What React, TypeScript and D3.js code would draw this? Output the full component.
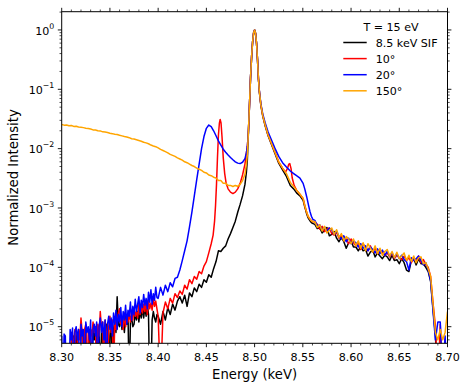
import React from "react";
import * as d3 from "d3";

// ---------- axes / labels ----------
const xDomain: [number, number] = [8.3, 8.7];
const yDomain: [number, number] = [5.25e-6, 2.03];
const xMajorTicks = [8.3, 8.35, 8.4, 8.45, 8.5, 8.55, 8.6, 8.65, 8.7];
const xTickLabels = ["8.30", "8.35", "8.40", "8.45", "8.50", "8.55", "8.60", "8.65", "8.70"];
const yExponents = [0, -1, -2, -3, -4, -5];
const xLabel = "Energy (keV)";
const yLabel = "Normalized Intensity";
const legendTitle = "T = 15 eV";
const seriesNames = ["8.5 keV SIF", "10°", "20°", "150°"];
const seriesColors = ["black", "red", "blue", "orange"];

// ---------- data ----------
const lowStart = 8.3; // noisy low-energy segment 8.300 – 8.39875
const lowStep = 0.00125;
const tailStart = 8.5625; // noisy high-energy tail 8.5625 – 8.700
const tailStep = 0.0025;

const blackLow = [
  1e-6, 1e-6, 1e-6, 1e-6, 1e-6, 1e-6, 1e-6, 1e-6, 1e-6, 1e-6,
  7e-6, 1e-6, 6e-6, 8e-6, 1e-6, 1e-6, 7e-6, 9e-6, 6e-6, 1e-6,
  8e-6, 1e-6, 1e-6, 9e-6, 7e-6, 1e-6, 1e-5, 6e-6, 1e-5, 7e-6,
  1e-6, 8e-6, 1e-6, 9e-6, 7e-6, 1e-6, 1e-6, 1.1e-5, 8e-6, 1e-6,
  7e-6, 1.2e-5, 1e-6, 9e-6, 1.2e-5, 8e-6, 3.2e-5, 1.1e-5, 1e-5, 1.4e-5,
  9e-6, 1.3e-5, 8e-6, 1.5e-5, 1.1e-5, 1.6e-5, 1e-6, 1.2e-5, 1.4e-5, 1e-5,
  1.1e-5, 1.7e-5, 1.3e-5, 1.8e-5, 1.2e-5, 1.9e-5, 1.4e-5, 2.1e-5, 1.4e-5, 2.2e-5,
  1.5e-5, 2.4e-5, 1.6e-5, 1e-6, 1e-6, 1.3e-5, 1.8e-5, 1.4e-5, 1.2e-5, 1.6e-5,
];
const redLow = [
  1e-6, 1e-6, 1e-6, 1e-6, 1e-6, 1e-6, 1e-6, 1e-6, 8e-6, 1e-6,
  6e-6, 9e-6, 1e-6, 7e-6, 9e-6, 6e-6, 1.4e-5, 8e-6, 1e-6, 9e-6,
  1.1e-5, 1e-6, 8e-6, 1e-6, 9e-6, 7e-6, 1.2e-5, 8e-6, 1e-5, 1e-6,
  1.1e-5, 7e-6, 1.8e-5, 9e-6, 1.2e-5, 1e-6, 1.3e-5, 8e-6, 1e-6, 1e-5,
  1.5e-5, 8e-6, 1.3e-5, 1e-6, 1.3e-5, 9e-6, 1.2e-5, 1.7e-5, 2e-5, 1.1e-5,
  1.5e-5, 9e-6, 1.7e-5, 1e-5, 1.4e-5, 1.2e-5, 1.6e-5, 1.2e-5, 1.9e-5, 1.3e-5,
  2.1e-5, 1.5e-5, 1.8e-5, 1.4e-5, 2.6e-5, 1.6e-5, 2.2e-5, 1.7e-5, 2.4e-5, 1.8e-5,
  2.7e-5, 1.6e-5, 2.9e-5, 2e-5, 2.5e-5, 1.9e-5, 3e-5, 2.2e-5, 2.7e-5, 2e-5,
];
const blueLow = [
  7e-6, 1e-6, 7.5e-6, 7e-6, 1e-6, 1e-6, 1e-6, 9e-6, 6e-6, 9.5e-6,
  1e-6, 8e-6, 1e-5, 6e-6, 9e-6, 1e-6, 1.1e-5, 7e-6, 9e-6, 1e-6,
  1.2e-5, 8e-6, 1e-5, 6e-6, 1.3e-5, 1e-6, 9e-6, 1.1e-5, 7e-6, 1.2e-5,
  1e-6, 1e-5, 1.4e-5, 8e-6, 1.2e-5, 6e-6, 1.3e-5, 1e-6, 1.1e-5, 1.5e-5,
  9e-6, 1.4e-5, 7e-6, 1.7e-5, 1.1e-5, 1.9e-5, 9e-6, 1.6e-5, 1.2e-5, 2.1e-5,
  1e-5, 1.8e-5, 1.3e-5, 2.3e-5, 1.1e-5, 1.9e-5, 1.5e-5, 2.6e-5, 1.3e-5, 2.2e-5,
  1.6e-5, 2.9e-5, 1.8e-5, 2.4e-5, 3.2e-5, 1.7e-5, 2.8e-5, 2.1e-5, 3.5e-5, 2.3e-5,
  3e-5, 2e-5, 3.8e-5, 2.6e-5, 4.2e-5, 2.4e-5, 3.6e-5, 2.8e-5, 4.6e-5, 3.1e-5,
];

const blackMid: [number, number][] = [
  [8.4, 1.5e-5], [8.4025, 1.1e-5], [8.405, 1.8e-5], [8.4075, 1.3e-5], [8.41, 2.1e-5], [8.4125, 1.6e-5],
  [8.415, 2.4e-5], [8.4175, 1.9e-5], [8.42, 2.7e-5], [8.4225, 3.2e-5], [8.425, 2.5e-5], [8.4275, 3.4e-5],
  [8.43, 2.2e-5], [8.4325, 3.7e-5], [8.435, 3.2e-5], [8.4375, 4.5e-5], [8.44, 3.9e-5], [8.4425, 5.2e-5],
  [8.445, 4.6e-5], [8.4475, 6.2e-5], [8.45, 5.6e-5], [8.4525, 7.5e-5], [8.455, 6.8e-5], [8.4575, 9.5e-5],
  [8.46, 1.25e-4], [8.4625, 1.9e-4], [8.465, 1.85e-4], [8.4675, 2.1e-4], [8.47, 2.3e-4], [8.4725, 3.0e-4],
  [8.475, 3.7e-4], [8.4775, 4.7e-4], [8.48, 6.0e-4], [8.4825, 8.5e-4], [8.485, 1.15e-3], [8.4875, 1.6e-3],
  [8.49, 2.5e-3], [8.4915, 4.0e-3], [8.4925, 6.5e-3], [8.4935, 0.017], [8.4945, 0.044], [8.4958, 0.16],
  [8.497, 0.38], [8.498, 0.65], [8.499, 0.9], [8.5, 1.0], [8.501, 0.88], [8.502, 0.6], [8.503, 0.32],
  [8.504, 0.15], [8.505, 0.088], [8.5065, 0.053], [8.5085, 0.035], [8.511, 0.024], [8.514, 0.0165],
  [8.5175, 0.0118], [8.521, 8.4e-3], [8.525, 5.7e-3], [8.529, 4.4e-3], [8.533, 3.4e-3], [8.537, 2.4e-3],
  [8.5405, 2.1e-3], [8.5435, 1.8e-3], [8.547, 1.6e-3], [8.5503, 1.35e-3], [8.552, 1.05e-3], [8.554, 8e-4],
  [8.5555, 6.8e-4], [8.558, 5.9e-4], [8.56, 5.5e-4],
];
const redMid: [number, number][] = [
  [8.4, 1.5e-5], [8.4025, 1e-6], [8.405, 1.7e-5], [8.4075, 2.6e-5], [8.41, 2e-5], [8.4125, 3e-5],
  [8.415, 2.5e-5], [8.4175, 3.6e-5], [8.42, 3.1e-5], [8.4225, 4e-5], [8.425, 3.5e-5], [8.4275, 5e-5],
  [8.43, 4.3e-5], [8.4325, 6.2e-5], [8.435, 5.3e-5], [8.4375, 7e-5], [8.44, 6.3e-5], [8.4425, 8.5e-5],
  [8.445, 7.8e-5], [8.4475, 1.05e-4], [8.45, 1.25e-4], [8.4525, 1.75e-4], [8.455, 2.5e-4], [8.457, 3.5e-4],
  [8.4585, 6e-4], [8.4595, 1.1e-3], [8.4605, 2.5e-3], [8.4615, 7e-3], [8.4625, 0.017], [8.4635, 0.027],
  [8.4643, 0.031], [8.4652, 0.027], [8.4662, 0.016], [8.4675, 7e-3], [8.469, 3.8e-3], [8.4705, 2.6e-3],
  [8.4725, 2.1e-3], [8.475, 1.85e-3], [8.4775, 1.75e-3], [8.48, 1.85e-3], [8.4825, 2.1e-3], [8.485, 2.6e-3],
  [8.4875, 3.6e-3], [8.49, 5.5e-3], [8.4915, 8.5e-3], [8.4925, 0.011], [8.4935, 0.018], [8.4945, 0.045],
  [8.4958, 0.16], [8.497, 0.38], [8.498, 0.65], [8.499, 0.9], [8.5, 1.0], [8.501, 0.88], [8.502, 0.6],
  [8.503, 0.32], [8.504, 0.15], [8.505, 0.09], [8.5065, 0.055], [8.5085, 0.036], [8.511, 0.025],
  [8.514, 0.017], [8.5175, 0.0122], [8.521, 8.8e-3], [8.525, 6e-3], [8.529, 4.7e-3], [8.532, 4.0e-3],
  [8.534, 4.6e-3], [8.5355, 5.5e-3], [8.5365, 5.6e-3], [8.5378, 4.6e-3], [8.539, 3.2e-3], [8.541, 2.4e-3],
  [8.5435, 2.0e-3], [8.547, 1.7e-3], [8.5503, 1.45e-3], [8.552, 1.1e-3], [8.554, 8.5e-4], [8.5555, 7.2e-4],
  [8.558, 6.3e-4], [8.56, 5.9e-4],
];
const blueMid: [number, number][] = [
  [8.4, 3e-5], [8.4025, 4.6e-5], [8.405, 3.4e-5], [8.4075, 5e-5], [8.41, 3.9e-5], [8.4125, 5.5e-5],
  [8.415, 4.7e-5], [8.4175, 6.5e-5], [8.42, 6.8e-5], [8.4225, 9e-5], [8.425, 1.3e-4], [8.4275, 1.9e-4],
  [8.43, 2.8e-4], [8.4325, 4.8e-4], [8.435, 8.5e-4], [8.4375, 1.6e-3], [8.44, 3e-3], [8.4425, 5.5e-3],
  [8.445, 0.01], [8.4475, 0.016], [8.45, 0.022], [8.4525, 0.025], [8.455, 0.0235], [8.4575, 0.02],
  [8.46, 0.0165], [8.4625, 0.0135], [8.465, 0.0115], [8.4675, 0.0098], [8.47, 8.7e-3], [8.4725, 7.8e-3],
  [8.475, 7.1e-3], [8.4775, 6.5e-3], [8.48, 6.0e-3], [8.4825, 5.7e-3], [8.485, 5.6e-3], [8.4875, 5.9e-3],
  [8.49, 6.8e-3], [8.4915, 8.5e-3], [8.4925, 0.011], [8.4935, 0.018], [8.4945, 0.045], [8.4958, 0.16],
  [8.497, 0.38], [8.498, 0.65], [8.499, 0.9], [8.5, 1.0], [8.501, 0.88], [8.502, 0.6], [8.503, 0.32],
  [8.504, 0.15], [8.505, 0.092], [8.5065, 0.057], [8.5085, 0.038], [8.511, 0.027], [8.514, 0.019],
  [8.5175, 0.014], [8.521, 0.0102], [8.525, 7.4e-3], [8.529, 5.8e-3], [8.533, 4.9e-3], [8.537, 4.2e-3],
  [8.5405, 3.8e-3], [8.5435, 3.5e-3], [8.547, 3.2e-3], [8.5503, 2.6e-3], [8.552, 2.1e-3], [8.554, 1.55e-3],
  [8.556, 1.1e-3], [8.5575, 8.6e-4], [8.559, 7.2e-4], [8.5605, 6.4e-4],
];
const orangeMain: [number, number][] = [
  [8.3, 0.0255], [8.3025, 0.0249], [8.305, 0.0251], [8.3075, 0.0243], [8.31, 0.0246], [8.3125, 0.0237],
  [8.315, 0.0238], [8.3175, 0.0231], [8.32, 0.0229], [8.3225, 0.0226], [8.325, 0.0221], [8.3275, 0.0219],
  [8.33, 0.0214], [8.3325, 0.0207], [8.335, 0.0206], [8.3375, 0.02], [8.34, 0.0199], [8.3425, 0.0192],
  [8.345, 0.019], [8.3475, 0.0187], [8.35, 0.0182], [8.3525, 0.0179], [8.355, 0.0175], [8.3575, 0.0173],
  [8.36, 0.0168], [8.3625, 0.0164], [8.365, 0.016], [8.3675, 0.0157], [8.37, 0.0153], [8.3725, 0.0147],
  [8.375, 0.0145], [8.3775, 0.0141], [8.38, 0.0137], [8.3825, 0.0133], [8.385, 0.0128], [8.3875, 0.0125],
  [8.39, 0.0121], [8.3925, 0.0115], [8.395, 0.0111], [8.3975, 0.0108], [8.4, 0.0103], [8.4025, 0.0097],
  [8.405, 0.0093], [8.4075, 0.0089], [8.41, 0.0085], [8.4125, 0.008], [8.415, 0.0077], [8.4175, 0.0074],
  [8.42, 0.007], [8.4225, 0.0067], [8.425, 0.0064], [8.4275, 0.006], [8.43, 0.0058], [8.4325, 0.0055],
  [8.435, 0.0052], [8.4375, 0.005], [8.44, 0.0047], [8.4425, 0.0045], [8.445, 0.0043], [8.4475, 0.004],
  [8.45, 0.0039], [8.4525, 0.0036], [8.455, 0.0035], [8.4575, 0.0033], [8.46, 0.0032], [8.4625, 0.0029],
  [8.465, 0.0029], [8.4675, 0.0026], [8.47, 0.0026], [8.4725, 0.0024], [8.475, 0.0024], [8.4775, 0.0023],
  [8.48, 0.0024], [8.4825, 0.00232], [8.485, 0.0025], [8.4875, 0.0029], [8.49, 0.0037], [8.4915, 0.0055],
  [8.4925, 8e-3], [8.4935, 0.018], [8.4945, 0.045], [8.4958, 0.16], [8.497, 0.38], [8.498, 0.65],
  [8.499, 0.9], [8.5, 1.0], [8.501, 0.88], [8.502, 0.6], [8.503, 0.32], [8.504, 0.15], [8.505, 0.09],
  [8.5065, 0.055], [8.5085, 0.036], [8.511, 0.025], [8.514, 0.017], [8.5175, 0.0122], [8.521, 8.8e-3],
  [8.525, 6e-3], [8.529, 4.7e-3], [8.533, 3.8e-3], [8.537, 2.7e-3], [8.5405, 2.3e-3], [8.5435, 2.0e-3],
  [8.547, 1.7e-3], [8.5503, 1.45e-3], [8.552, 1.1e-3], [8.554, 8.5e-4], [8.5555, 7.2e-4], [8.558, 6.3e-4],
  [8.56, 5.9e-4],
];

const blackTail = [
  5.3e-4, 4.5e-4, 4.7e-4, 3.8e-4, 4.2e-4, 4.7e-4, 3.4e-4, 3.6e-4, 4.0e-4, 3.1e-4,
  2.7e-4, 3.2e-4, 2.7e-4, 2.1e-4, 2.6e-4, 2.8e-4, 2.2e-4, 2.2e-4, 1.9e-4, 2.25e-4,
  1.9e-4, 2.0e-4, 1.55e-4, 1.8e-4, 1.95e-4, 1.5e-4, 1.75e-4, 1.55e-4, 1.4e-4, 1.6e-4,
  1.5e-4, 1.3e-4, 1.6e-4, 1.3e-4, 1.35e-4, 1.15e-4, 1.4e-4, 1.2e-4, 9e-5, 8.5e-5,
  1.3e-4, 1.4e-4, 1.1e-4, 1.4e-4, 1.15e-4, 1.15e-4, 1.0e-4, 8.5e-5, 5.8e-5, 2e-5,
  7e-6, 1e-6, 1e-6, 1e-6, 1e-6, 1e-6,
];
const redTail = [
  5.8e-4, 5.3e-4, 4.4e-4, 4.9e-4, 4.0e-4, 4.4e-4, 4.6e-4, 3.7e-4, 3.5e-4, 3.9e-4,
  3.1e-4, 3.5e-4, 2.8e-4, 3.0e-4, 2.5e-4, 3.0e-4, 2.6e-4, 2.3e-4, 2.6e-4, 2.0e-4,
  2.5e-4, 2.1e-4, 1.9e-4, 2.3e-4, 1.8e-4, 2.1e-4, 1.7e-4, 1.9e-4, 1.8e-4, 1.6e-4,
  1.75e-4, 1.5e-4, 1.7e-4, 1.4e-4, 1.6e-4, 1.45e-4, 1.35e-4, 1.55e-4, 1.3e-4, 1.45e-4,
  1.2e-4, 1.4e-4, 1.25e-4, 1.55e-4, 1.2e-4, 1.35e-4, 1.1e-4, 1.0e-4, 7e-5, 2.5e-5,
  1e-5, 1e-6, 1.1e-5, 1e-6, 6e-6, 1e-6,
];
const blueTail = [
  6.2e-4, 5.0e-4, 5.2e-4, 4.2e-4, 4.8e-4, 4.0e-4, 4.6e-4, 4.3e-4, 3.6e-4, 4.1e-4,
  3.3e-4, 3.0e-4, 3.4e-4, 2.7e-4, 3.1e-4, 2.5e-4, 2.8e-4, 2.6e-4, 2.2e-4, 2.5e-4,
  2.1e-4, 2.3e-4, 1.9e-4, 2.2e-4, 2.0e-4, 1.75e-4, 2.05e-4, 1.7e-4, 1.95e-4, 1.6e-4,
  1.85e-4, 1.55e-4, 1.75e-4, 1.45e-4, 1.7e-4, 1.4e-4, 1.6e-4, 1.35e-4, 1.25e-4, 9e-5,
  1.45e-4, 1.3e-4, 1.4e-4, 1.55e-4, 1.3e-4, 1.1e-4, 1.2e-4, 9e-5, 6e-5, 1.8e-5,
  6e-6, 1.2e-5, 1.2e-5, 1e-6, 7e-6, 1e-6,
];
const orangeTail = [
  5.9e-4, 4.7e-4, 5.2e-4, 4.1e-4, 4.9e-4, 3.8e-4, 4.2e-4, 4.6e-4, 3.6e-4, 4.3e-4,
  3.2e-4, 3.7e-4, 2.8e-4, 3.3e-4, 3.0e-4, 2.5e-4, 3.0e-4, 2.3e-4, 2.8e-4, 2.1e-4,
  2.6e-4, 1.9e-4, 2.5e-4, 2.1e-4, 1.8e-4, 2.3e-4, 1.7e-4, 2.1e-4, 1.6e-4, 1.85e-4,
  2.0e-4, 1.55e-4, 1.85e-4, 1.45e-4, 1.8e-4, 1.4e-4, 1.55e-4, 1.75e-4, 1.3e-4, 1.6e-4,
  1.25e-4, 1.55e-4, 1.2e-4, 1.45e-4, 1.5e-4, 1.15e-4, 1.2e-4, 9.5e-5, 7e-5, 2.4e-5,
  8e-6, 6e-6, 9e-6, 6e-6, 8e-6, 1.8e-5,
];

// ---------- helpers ----------
const onGrid = (start: number, step: number, vals: number[]): [number, number][] =>
  vals.map((v, i) => [start + i * step, v]);

const seriesData: [number, number][][] = [
  [...onGrid(lowStart, lowStep, blackLow), ...blackMid, ...onGrid(tailStart, tailStep, blackTail)],
  [...onGrid(lowStart, lowStep, redLow), ...redMid, ...onGrid(tailStart, tailStep, redTail)],
  [...onGrid(lowStart, lowStep, blueLow), ...blueMid, ...onGrid(tailStart, tailStep, blueTail)],
  [...orangeMain, ...onGrid(tailStart, tailStep, orangeTail)],
];

const W = 469;
const H = 389;
const plot = { left: 61.7, right: 447.5, top: 11.7, bottom: 343.3 };
const FONT = "DejaVu Sans, sans-serif";

export default function App() {
  const x = d3.scaleLinear().domain(xDomain).range([plot.left, plot.right]);
  const y = d3.scaleLog().domain(yDomain).range([plot.bottom, plot.top]);
  const line = d3
    .line<[number, number]>()
    .x((d) => x(d[0]))
    .y((d) => y(d[1]));

  const xMinor = d3
    .range(0, 41)
    .map((i) => 8.3 + i * 0.01)
    .filter((v) => Math.abs((v - 8.3) / 0.05 - Math.round((v - 8.3) / 0.05)) > 1e-6);
  const yMinor: number[] = [];
  for (let e = -6; e <= 0; e++) {
    for (let k = 2; k <= 9; k++) {
      const v = k * Math.pow(10, e);
      if (v >= yDomain[0] && v <= yDomain[1]) yMinor.push(v);
    }
  }

  const majLen = 3.9;
  const minLen = 2.2;
  const tickW = 0.9;

  return (
    <svg
      width={W}
      height={H}
      style={{ position: "absolute", left: 0, top: 0, background: "white" }}
      fontFamily={FONT}
    >
      <defs>
        <clipPath id="plotclip">
          <rect x={plot.left} y={plot.top} width={plot.right - plot.left} height={plot.bottom - plot.top} />
        </clipPath>
      </defs>
      <rect x={0} y={0} width={W} height={H} fill="white" />

      <g clipPath="url(#plotclip)">
        {seriesData.map((d, i) => (
          <path
            key={i}
            d={line(d) || ""}
            fill="none"
            stroke={seriesColors[i]}
            strokeWidth={1.5}
            strokeLinejoin="round"
          />
        ))}
      </g>

      <rect
        x={plot.left}
        y={plot.top}
        width={plot.right - plot.left}
        height={plot.bottom - plot.top}
        fill="none"
        stroke="black"
        strokeWidth={1}
      />

      {xMajorTicks.map((t, i) => (
        <g key={"xm" + i}>
          <line x1={x(t)} x2={x(t)} y1={plot.bottom} y2={plot.bottom + majLen} stroke="black" strokeWidth={tickW} />
          <line x1={x(t)} x2={x(t)} y1={plot.top} y2={plot.top - majLen} stroke="black" strokeWidth={tickW} />
          <text x={x(t)} y={360.5} fontSize={11.1} textAnchor="middle" fill="black">
            {xTickLabels[i]}
          </text>
        </g>
      ))}
      {xMinor.map((t, i) => (
        <g key={"xn" + i}>
          <line x1={x(t)} x2={x(t)} y1={plot.bottom} y2={plot.bottom + minLen} stroke="black" strokeWidth={0.7} />
          <line x1={x(t)} x2={x(t)} y1={plot.top} y2={plot.top - minLen} stroke="black" strokeWidth={0.7} />
        </g>
      ))}

      {yExponents.map((e, i) => {
        const yy = y(Math.pow(10, e));
        return (
          <g key={"ym" + i}>
            <line x1={plot.left - majLen} x2={plot.left} y1={yy} y2={yy} stroke="black" strokeWidth={tickW} />
            <line x1={plot.right} x2={plot.right + majLen} y1={yy} y2={yy} stroke="black" strokeWidth={tickW} />
            <text x={54.3} y={yy + 4.8} fontSize={11.1} textAnchor="end" fill="black">
              10
              <tspan dy={-6} fontSize={7.8}>
                {e < 0 ? "\u2212" + Math.abs(e) : String(e)}
              </tspan>
            </text>
          </g>
        );
      })}
      {yMinor.map((v, i) => {
        const yy = y(v);
        return (
          <g key={"yn" + i}>
            <line x1={plot.left - minLen} x2={plot.left} y1={yy} y2={yy} stroke="black" strokeWidth={0.7} />
            <line x1={plot.right} x2={plot.right + minLen} y1={yy} y2={yy} stroke="black" strokeWidth={0.7} />
          </g>
        );
      })}

      <text x={(plot.left + plot.right) / 2} y={379} fontSize={13.2} textAnchor="middle" fill="black">
        {xLabel}
      </text>
      <text
        transform={`translate(18,${(plot.top + plot.bottom) / 2}) rotate(-90)`}
        fontSize={13.2}
        textAnchor="middle"
        fill="black"
      >
        {yLabel}
      </text>

      <text x={391} y={30.5} fontSize={11.1} textAnchor="middle" fill="black">
        {legendTitle}
      </text>
      {seriesNames.map((n, i) => {
        const ly = 42.5 + i * 16.1;
        return (
          <g key={"lg" + i}>
            <line x1={343.3} x2={366.7} y1={ly} y2={ly} stroke={seriesColors[i]} strokeWidth={1.5} />
            <text x={375.7} y={ly + 4.2} fontSize={11.1} fill="black">
              {n}
            </text>
          </g>
        );
      })}
    </svg>
  );
}
